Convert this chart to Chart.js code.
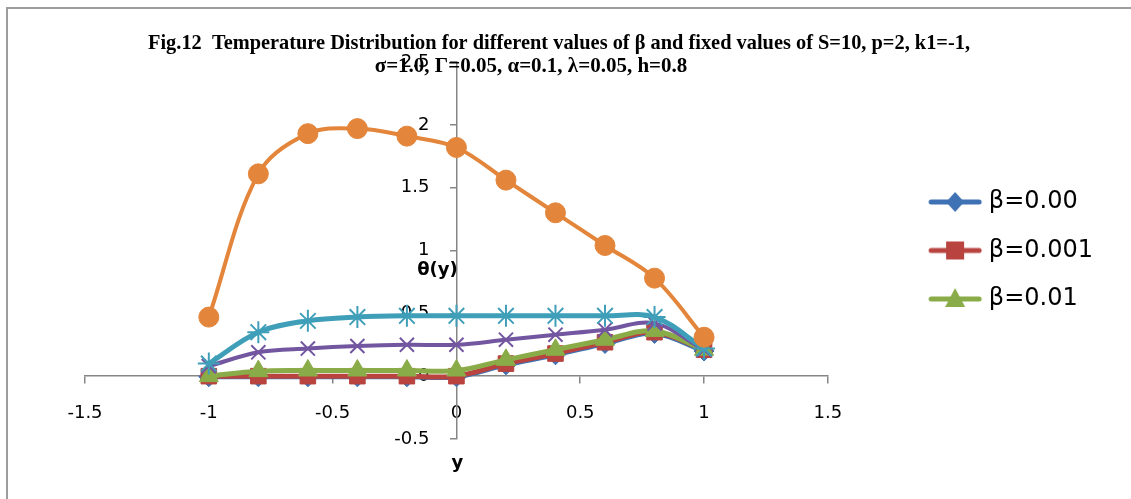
<!DOCTYPE html>
<html>
<head>
<meta charset="utf-8">
<script src="https://cdn.jsdelivr.net/npm/chart.js@4"></script>
<style>
  html, body { margin: 0; padding: 0; background: #fff; }
  #wrap { position: relative; width: 1131px; height: 499px; overflow: hidden; }
  #frame { position: absolute; left: 6px; top: 7px; width: 1200px; height: 600px;
           border-top: 2px solid #9d9d9d; border-left: 2px solid #9d9d9d; }
  canvas { position: absolute; left: 0; top: 0; }
</style>
</head>
<body>
<div id="wrap">
  <div id="frame"></div>
  <canvas id="myChart" width="1131" height="499"></canvas>
</div>
<script>
// y positions across the channel
const yValues = [-1, -0.8, -0.6, -0.4, -0.2, 0, 0.2, 0.4, 0.6, 0.8, 1];

// theta(y) for each beta (last three series are not named in the legend)
const beta000 = [-0.005, -0.005, -0.005, -0.005, -0.005, -0.005, 0.09, 0.17, 0.26, 0.34, 0.2];
const beta0001 = [0, 0, 0, 0, 0, 0, 0.1, 0.18, 0.27, 0.35, 0.21];
const beta001 = [0, 0.04, 0.045, 0.045, 0.045, 0.045, 0.13, 0.21, 0.29, 0.36, 0.21];
const series4 = [0.08, 0.19, 0.22, 0.24, 0.25, 0.25, 0.29, 0.33, 0.37, 0.42, 0.21];
const series5 = [0.1, 0.35, 0.44, 0.47, 0.48, 0.48, 0.48, 0.48, 0.48, 0.47, 0.22];
const series6 = [0.47, 1.61, 1.93, 1.97, 1.91, 1.82, 1.56, 1.3, 1.04, 0.78, 0.31];

const seriesNames = ['β=0.00', 'β=0.001', 'β=0.01', 'Series4', 'Series5', 'Series6'];

const titleLines = [
  'Fig.12  Temperature Distribution for different values of β and fixed values of S=10, p=2, k1=-1,',
  'σ=1.0, Γ=0.05, α=0.1, λ=0.05, h=0.8'
];
const xTitle = 'y';
const yTitle = 'θ(y)';

const colors = ['#3f72b4', '#b8433f', '#8aac48', '#7356a0', '#3f9fb9', '#e3853a'];

function toPoints(vals) {
  return vals.map((v, i) => ({ x: yValues[i], y: v }));
}

// little line + marker pictures for the legend, like excel draws them
function legendIcon(color, shape) {
  const c = document.createElement('canvas');
  c.width = 137; c.height = 26;
  const g = c.getContext('2d');
  g.strokeStyle = color;
  g.lineWidth = 5;
  g.lineCap = 'round';
  g.beginPath(); g.moveTo(85, 13); g.lineTo(133, 13); g.stroke();
  g.fillStyle = color;
  g.beginPath();
  const cx = 109, cy = 13;
  if (shape === 'diamond') {
    g.moveTo(cx, cy - 10); g.lineTo(cx + 9, cy); g.lineTo(cx, cy + 10); g.lineTo(cx - 9, cy);
  } else if (shape === 'square') {
    g.rect(cx - 9, cy - 9, 18, 18);
  } else {
    g.moveTo(cx, cy - 11); g.lineTo(cx + 10, cy + 8); g.lineTo(cx - 10, cy + 8);
  }
  g.closePath();
  g.fill();
  return c;
}
const legendIcons = [legendIcon(colors[0], 'diamond'), legendIcon(colors[1], 'square'), legendIcon(colors[2], 'triangle')];

const textPlugin = {
  id: 'textPlugin',
  afterDraw(chart) {
    const ctx = chart.ctx;
    const x0 = chart.scales.x.getPixelForValue(0);
    ctx.save();
    ctx.fillStyle = '#000';
    ctx.textAlign = 'center';
    ctx.textBaseline = 'middle';
    ctx.font = 'bold 21px "Liberation Serif"';
    ctx.fillText(titleLines[0], 559, 44, 822);
    ctx.fillText(titleLines[1], 531, 67, 322);
    ctx.font = 'bold 18px "DejaVu Sans"';
    ctx.fillText(yTitle, x0 - 19, 270);
    ctx.fillText(xTitle, x0 + 1, 463);
    ctx.restore();
  }
};

const markerStyles = ['rectRot', 'rect', 'triangle', 'crossRot', 'star', 'circle'];
const markerSizes = [10, 11, 11, 10, 11, 10];
const lineWidths = [5, 5, 5, 4, 5, 4];
const drawOrder = [5, 4, 3, 2, 1, 0];
const allSeries = [beta000, beta0001, beta001, series4, series5, series6];

const datasets = allSeries.map((vals, i) => ({
  label: seriesNames[i],
  data: toPoints(vals),
  borderColor: colors[i],
  backgroundColor: colors[i],
  borderWidth: lineWidths[i],
  pointStyle: markerStyles[i],
  pointRadius: markerSizes[i],
  pointHoverRadius: markerSizes[i],
  pointBorderWidth: (i === 3 || i === 4) ? 2 : 1,
  showLine: true,
  tension: 0.35,
  order: drawOrder[i]
}));

const fmt = (v) => String(Number(v.toFixed(1)));

const ctx = document.getElementById('myChart').getContext('2d');

const config = {
  type: 'scatter',
  data: { datasets: datasets },
  options: {
    responsive: false,
    animation: false,
    devicePixelRatio: 1,
    layout: { padding: { left: 85, top: 62, bottom: 60, right: 28 } },
    plugins: {
      tooltip: { enabled: false },
      legend: {
        position: 'right',
        align: 'center',
        maxWidth: 400,
        labels: {
          usePointStyle: true,
          pointStyleWidth: 124.5,
          padding: 24.5,
          color: '#000',
          font: { family: 'DejaVu Sans', size: 24 },
          generateLabels: () => [0, 1, 2].map(i => ({
            text: seriesNames[i],
            pointStyle: legendIcons[i],
            fillStyle: 'rgba(0,0,0,0)',
            strokeStyle: 'rgba(0,0,0,0)',
            lineWidth: 0,
            fontColor: '#000',
            hidden: false,
            datasetIndex: i
          }))
        }
      }
    },
    scales: {
      x: {
        type: 'linear',
        position: { y: 0 },
        min: -1.5,
        max: 1.5,
        afterFit: (s) => { s.height = 0; },
        ticks: { stepSize: 0.5, padding: 19, color: '#000', font: { family: 'DejaVu Sans', size: 18 },
                 callback: (v) => fmt(v) },
        grid: { drawOnChartArea: false, tickLength: 7, color: '#868686', lineWidth: 1.5 },
        border: { color: '#868686', width: 1.5 }
      },
      y: {
        type: 'linear',
        position: { x: 0 },
        min: -0.5,
        max: 2.5,
        afterFit: (s) => { s.width = 0; },
        // labels sit right-aligned on the axis, so pad them with spaces
        ticks: { stepSize: 0.5, color: '#000', font: { family: 'DejaVu Sans', size: 18 },
                 callback: (v) => fmt(v) + '\u2003\u2002' },
        grid: { drawOnChartArea: false, tickLength: 6, color: '#868686', lineWidth: 1.5 },
        border: { color: '#868686', width: 1.5 }
      }
    }
  },
  plugins: [textPlugin]
};

const myChart = new Chart(ctx, config);
</script>
</body>
</html>
